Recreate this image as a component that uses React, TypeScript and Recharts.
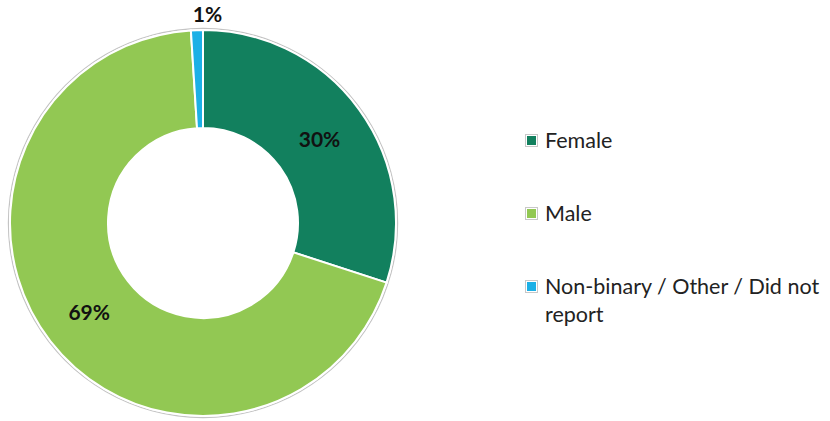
import { PieChart, Pie, Cell, Legend } from 'recharts'

const categories = ['Female', 'Male', 'Non-binary / Other / Did not report']
const shares = [30, 69, 1]
const colors = ['#12805E', '#92C853', '#1CB0E6']

const data = categories.map((name, i) => ({ name, value: shares[i] }))
// single full ring used as the thin grey outline round the donut
const outline = [{ name: 'outline', value: 1 }]

const RAD = Math.PI / 180
const FONT = 'Lato, "Liberation Sans", sans-serif'

function renderLabel(props: any) {
  const { cx, cy, midAngle, innerRadius, outerRadius, value } = props
  // Small slices get their label pushed outside the ring, like the source.
  const outside = value < 5
  const r = outside ? outerRadius + 17 : (innerRadius + outerRadius) / 2
  const x = cx + r * Math.cos(-midAngle * RAD) + (outside ? 11 : 0)
  const y = cy + r * Math.sin(-midAngle * RAD)
  return (
    <text
      x={x}
      y={y}
      textAnchor="middle"
      dominantBaseline="central"
      fontFamily={FONT}
      fontWeight={700}
      fontSize={21}
      fill="#111"
    >
      {`${value}%`}
    </text>
  )
}

function LegendBox() {
  return (
    <div style={{ fontFamily: FONT, fontSize: 21.5, color: '#222' }}>
      {data.map((d, i) => (
        <div
          key={d.name}
          style={{ display: 'flex', alignItems: 'flex-start', marginBottom: 45, lineHeight: '28px' }}
        >
          <span
            style={{
              display: 'inline-block',
              width: 9,
              height: 9,
              marginTop: 8,
              marginRight: 7,
              border: '1px solid #c8c8c8',
              padding: 1,
              background: '#fff',
              flex: 'none',
            }}
          >
            <span style={{ display: 'block', width: 9, height: 9, background: colors[i] }} />
          </span>
          <span style={{ width: 285 }}>{d.name}</span>
        </div>
      ))}
    </div>
  )
}

export default function App() {
  return (
    <div style={{ position: 'absolute', left: 0, top: 0, width: 830, height: 421, background: '#fff' }}>
      <PieChart width={830} height={421} margin={{ top: 0, right: 0, bottom: 0, left: 0 }}>
        <Pie
          data={outline}
          dataKey="value"
          cx={203}
          cy={223}
          innerRadius={194}
          outerRadius={195.2}
          fill="#c4c4c4"
          stroke="none"
          isAnimationActive={false}
        />
        <Pie
          data={data}
          dataKey="value"
          nameKey="name"
          cx={203}
          cy={223}
          innerRadius={95}
          outerRadius={193}
          startAngle={90}
          endAngle={-270}
          stroke="#fff"
          strokeWidth={2}
          label={renderLabel}
          labelLine={false}
          isAnimationActive={false}
        >
          {data.map((d, i) => (
            <Cell key={d.name} fill={colors[i]} />
          ))}
        </Pie>
        <Legend
          content={() => <LegendBox />}
          wrapperStyle={{ position: 'absolute', left: 525, top: 126, width: 305 }}
        />
      </PieChart>
    </div>
  )
}
